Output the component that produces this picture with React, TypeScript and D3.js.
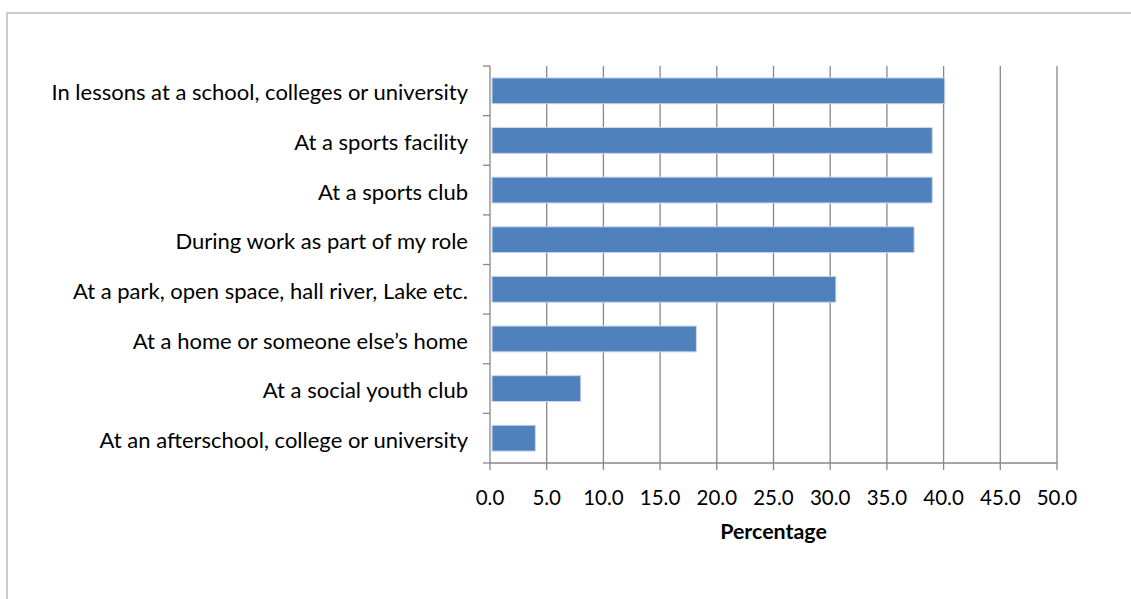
import React from "react";
import * as d3 from "d3";

const categories = [
  "In lessons at a school, colleges or university",
  "At a sports facility",
  "At a sports club",
  "During work as part of my role",
  "At a park, open space, hall river, Lake etc.",
  "At a home or someone else\u2019s home",
  "At a social youth club",
  "At an afterschool, college or university",
];
const values = [40.1, 39.0, 39.0, 37.4, 30.5, 18.2, 8.0, 4.0];
const xTicks = [0, 5, 10, 15, 20, 25, 30, 35, 40, 45, 50];
const xTitle = "Percentage";

const W = 1131;
const H = 599;
const left = 490;
const right = 1057;
const top = 66;
const bottom = 463;
const FONT = "Lato, 'Open Sans', sans-serif";

export default function App() {
  const x = d3.scaleLinear().domain([0, 50]).range([left, right]);
  const y = d3
    .scaleBand<string>()
    .domain(categories)
    .range([top, bottom])
    .paddingInner(0.48)
    .paddingOuter(0.24);
  const step = (bottom - top) / categories.length;
  const grid = "#878787";
  return (
    <svg
      width={W}
      height={H}
      style={{ position: "absolute", left: 0, top: 0, background: "#fff" }}
    >
      <rect x={7} y={13} width={W + 20} height={H + 20} fill="#fff" stroke="#cccccc" strokeWidth={2} />
      {xTicks.slice(1).map((t) => (
        <line key={"g" + t} x1={x(t)} x2={x(t)} y1={top} y2={bottom} stroke={grid} strokeWidth={1.3} />
      ))}
      {categories.map((c, i) => (
        <rect
          key={c}
          x={x(0) + 2}
          y={y(c)}
          width={x(values[i]) - x(0) - 2}
          height={y.bandwidth()}
          fill="#4F81BD"
          stroke="#c9d7ea"
          strokeWidth={1}
        />
      ))}
      <line x1={left} x2={left} y1={top} y2={bottom} stroke={grid} strokeWidth={1.3} />
      {d3.range(categories.length + 1).map((i) => (
        <line key={"yt" + i} x1={left - 7} x2={left} y1={top + i * step} y2={top + i * step} stroke={grid} strokeWidth={1.3} />
      ))}
      <line x1={left} x2={right} y1={bottom} y2={bottom} stroke={grid} strokeWidth={1.3} />
      {xTicks.map((t) => (
        <g key={"xt" + t}>
          <line x1={x(t)} x2={x(t)} y1={bottom} y2={bottom + 7} stroke={grid} strokeWidth={1.3} />
          <text x={x(t)} y={505} textAnchor="middle" fontFamily={FONT} fontSize={20.5} fill="#000">
            {t.toFixed(1)}
          </text>
        </g>
      ))}
      {categories.map((c) => (
        <text
          key={"l" + c}
          x={468}
          y={(y(c) as number) + y.bandwidth() / 2}
          dy="0.44em"
          textAnchor="end"
          fontFamily={FONT}
          fontSize={22}
          fill="#000"
        >
          {c}
        </text>
      ))}
      <text x={(left + right) / 2} y={539} textAnchor="middle" fontFamily={FONT} fontSize={21.4} fontWeight="bold" fill="#000">
        {xTitle}
      </text>
    </svg>
  );
}
